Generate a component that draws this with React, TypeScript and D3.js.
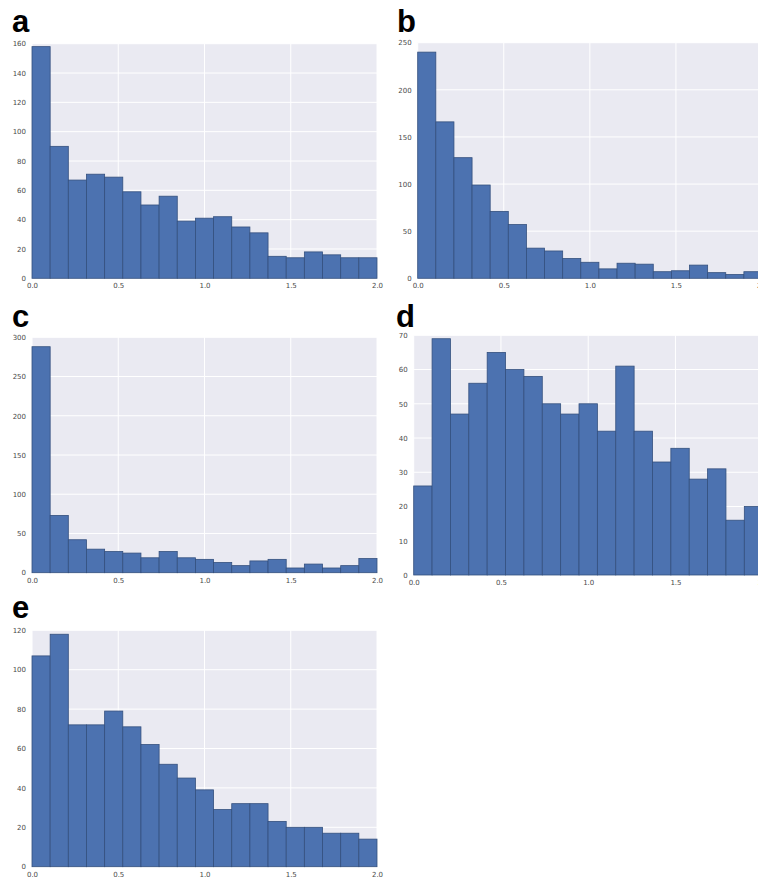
import React, { useRef, useEffect } from "react";
import * as d3 from "d3";

// bin counts (19 equal bins over 0..2)
const countsA = [158, 90, 67, 71, 69, 59, 50, 56, 39, 41, 42, 35, 31, 15, 14, 18, 16, 14, 14];
const countsB = [240, 166, 128, 99, 71, 57, 32, 29, 21, 17, 10, 16, 15, 7, 8, 14, 6, 4, 7];
const countsC = [288, 73, 42, 30, 27, 25, 19, 27, 19, 17, 13, 9, 15, 17, 6, 11, 6, 9, 18];
const countsD = [26, 69, 47, 56, 65, 60, 58, 50, 47, 50, 42, 61, 42, 33, 37, 28, 31, 16, 20];
const countsE = [107, 118, 72, 72, 79, 71, 62, 52, 45, 39, 29, 32, 32, 23, 20, 20, 17, 17, 14];

const xDomain = [0, 2];
const xTicks = [0, 0.5, 1.0, 1.5, 2.0];
const yTicksA = [0, 20, 40, 60, 80, 100, 120, 140, 160];
const yTicksB = [0, 50, 100, 150, 200, 250];
const yTicksC = [0, 50, 100, 150, 200, 250, 300];
const yTicksD = [0, 10, 20, 30, 40, 50, 60, 70];
const yTicksE = [0, 20, 40, 60, 80, 100, 120];

const panels = [
  { label: "a", counts: countsA, yTicks: yTicksA, left: 32, right: 377, top: 43.7, bottom: 278.3, lx: 12, ly: 32 },
  { label: "b", counts: countsB, yTicks: yTicksB, left: 417.7, right: 762, top: 42.7, bottom: 278.3, lx: 397, ly: 32 },
  { label: "c", counts: countsC, yTicks: yTicksC, left: 32, right: 377, top: 337.3, bottom: 572.7, lx: 12, ly: 327 },
  { label: "d", counts: countsD, yTicks: yTicksD, left: 413.7, right: 762.7, top: 335.3, bottom: 575, lx: 396, ly: 327 },
  { label: "e", counts: countsE, yTicks: yTicksE, left: 32, right: 377, top: 630.3, bottom: 866.7, lx: 12, ly: 618 },
];

const App = () => {
  const svgRef = useRef<SVGSVGElement>(null);

  useEffect(() => {
    if (!svgRef.current) return;
    const svg = d3.select(svgRef.current);
    svg.selectAll("*").remove();

    panels.forEach((p) => {
      const g = svg.append("g");
      const x = d3.scaleLinear().domain(xDomain).range([p.left, p.right]);
      const yMax = p.yTicks[p.yTicks.length - 1];
      const y = d3.scaleLinear().domain([0, yMax]).range([p.bottom, p.top]);

      // background
      g.append("rect")
        .attr("x", p.left)
        .attr("y", p.top)
        .attr("width", p.right - p.left)
        .attr("height", p.bottom - p.top)
        .attr("fill", "#EAEAF2");

      // grid
      g.selectAll(".hgrid")
        .data(p.yTicks)
        .enter()
        .append("line")
        .attr("x1", p.left)
        .attr("x2", p.right)
        .attr("y1", (d) => y(d))
        .attr("y2", (d) => y(d))
        .attr("stroke", "white")
        .attr("stroke-width", 1);
      g.selectAll(".vgrid")
        .data(xTicks)
        .enter()
        .append("line")
        .attr("x1", (d) => x(d))
        .attr("x2", (d) => x(d))
        .attr("y1", p.top)
        .attr("y2", p.bottom)
        .attr("stroke", "white")
        .attr("stroke-width", 1);

      // bars
      const n = p.counts.length;
      const step = (xDomain[1] - xDomain[0]) / n;
      g.selectAll(".bar")
        .data(p.counts)
        .enter()
        .append("rect")
        .attr("x", (_, i) => x(i * step))
        .attr("width", (_, i) => x((i + 1) * step) - x(i * step))
        .attr("y", (d) => y(d))
        .attr("height", (d) => y(0) - y(d))
        .attr("fill", "#4C72B0")
        .attr("stroke", "#34507e")
        .attr("stroke-width", 0.8);

      // axes
      const xAxis = d3
        .axisBottom(x)
        .tickValues(xTicks)
        .tickSize(0)
        .tickPadding(5)
        .tickFormat(d3.format(".1f") as any);
      const gx = g.append("g").attr("transform", `translate(0,${p.bottom})`).call(xAxis);
      const yAxis = d3
        .axisLeft(y)
        .tickValues(p.yTicks)
        .tickSize(0)
        .tickPadding(6)
        .tickFormat(d3.format("d") as any);
      const gy = g.append("g").attr("transform", `translate(${p.left},0)`).call(yAxis);
      [gx, gy].forEach((a) => {
        a.select(".domain").remove();
        a.attr("color", "#4a4a4a");
        a.selectAll("text")
          .attr("fill", "#4a4a4a")
          .style("font-size", "7px")
          .style("font-family", "'DejaVu Sans', Arial, sans-serif");
      });

      // panel label
      svg
        .append("text")
        .attr("x", p.lx)
        .attr("y", p.ly)
        .text(p.label)
        .style("font-family", "'Liberation Sans', Arial, sans-serif")
        .style("font-weight", "bold")
        .style("font-size", "31px")
        .attr("fill", "#000");
    });
  }, []);

  return (
    <svg
      ref={svgRef}
      width={758}
      height={878}
      style={{ position: "absolute", left: 0, top: 0, background: "white" }}
    ></svg>
  );
};

export default App;
